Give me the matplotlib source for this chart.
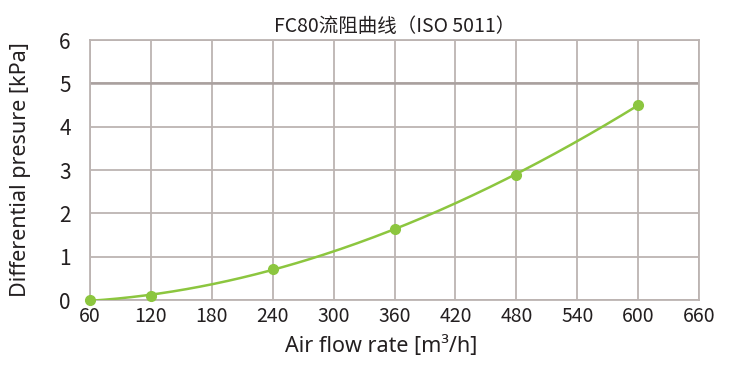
import numpy as np
import matplotlib
matplotlib.use('Agg')
import matplotlib.pyplot as plt

flow = [60, 120, 240, 360, 480, 600]
pressure = [0.0, 0.09, 0.71, 1.65, 2.89, 4.5]
xticks = [60, 120, 180, 240, 300, 360, 420, 480, 540, 600, 660]
yticks = [0, 1, 2, 3, 4, 5, 6]

green = '#8cc63f'
gridc = '#bcb4b2'
textc = '#231f20'

plt.rcParams['font.family'] = ['Noto Sans CJK SC', 'DejaVu Sans']

fig = plt.figure(figsize=(7.51, 3.88), dpi=100)
ax = fig.add_axes([0.1198, 0.2268, 0.8110, 0.6701])

# smooth curve through the points
coef = np.polyfit(flow, pressure, 3)
xs = np.linspace(flow[0], flow[-1], 200)
ax.plot(xs, np.polyval(coef, xs), color=green, lw=1.8, zorder=3)
ax.plot(flow, pressure, 'o', color=green, ms=7, zorder=4, clip_on=False)

ax.set_xlim(60, 660)
ax.set_ylim(0, 6)
ax.set_xticks(xticks)
ax.set_yticks(yticks)
ax.grid(True, color=gridc, lw=1.3)
ax.axhline(5, color='#a9a09e', lw=1.8)
for s in ax.spines.values():
    s.set_color(gridc)
    s.set_linewidth(1.3)
ax.tick_params(axis='x', length=0, pad=4, colors=textc, labelsize=14)
ax.tick_params(axis='y', length=0, pad=18, colors=textc, labelsize=15)
for lab in ax.get_yticklabels():
    lab.set_horizontalalignment('center')

ax.set_xlabel('Air flow rate [m³/h]', fontsize=15.5, color=textc, labelpad=7,
              family=['Noto Sans', 'DejaVu Sans'])
ax.xaxis.label.set_x(0.478)
ax.set_ylabel('Differential presure [kPa]', fontsize=15.5, color=textc, labelpad=20,
              family=['Noto Sans', 'DejaVu Sans'])
ax.set_title('FC80流阻曲线（ISO 5011）', fontsize=14, color=textc, pad=6)

fig.savefig('out.png', dpi=100)
